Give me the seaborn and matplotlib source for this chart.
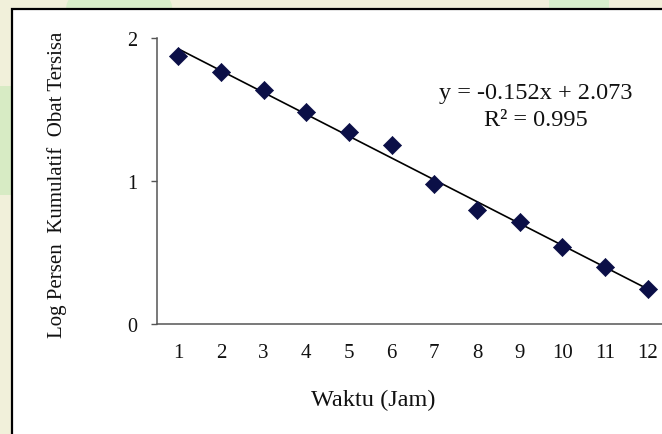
import numpy as np
import pandas as pd
import matplotlib
matplotlib.use("Agg")
import matplotlib.pyplot as plt
from matplotlib.patches import Rectangle, Ellipse
import seaborn as sns

# Data
waktu = [1, 2, 3, 4, 5, 6, 7, 8, 9, 10, 11, 12]
log_persen = [1.878, 1.762, 1.638, 1.482, 1.342, 1.253, 0.980, 0.800, 0.712, 0.537, 0.397, 0.245]
y_ticks = [0, 1, 2]
x_label = "Waktu (Jam)"
y_label = "Log Persen  Kumulatif  Obat Tersisa"
eq_text = "y = -0.152x + 2.073\nR\u00b2 = 0.995"

sns.set_theme(style="white")
plt.rcParams['font.family'] = ['Liberation Serif', 'DejaVu Serif']
plt.rcParams['text.color'] = '#111111'
plt.rcParams['xtick.color'] = '#111111'
plt.rcParams['ytick.color'] = '#111111'

df = pd.DataFrame({"Waktu": waktu, "Log": log_persen})

W, H = 662, 435
fig = plt.figure(figsize=(W / 100, H / 100), dpi=100)
fig.patch.set_facecolor("#f1f0da")

# soft watermark-like background patches
fig.patches.append(Ellipse((0.18, 0.98), 0.16, 0.12, transform=fig.transFigure,
                           facecolor="#d9efc9", edgecolor="none", zorder=0))
fig.patches.append(Rectangle((0.83, 0.95), 0.09, 0.06, transform=fig.transFigure,
                             facecolor="#d8f0cc", edgecolor="none", zorder=0))
fig.patches.append(Rectangle((0.0, 0.55), 0.018, 0.25, transform=fig.transFigure,
                             facecolor="#d7ebc4", edgecolor="none", zorder=0))

# white framed panel (extends beyond right/bottom edges)
fig.patches.append(Rectangle((12 / W, -0.1), 1.0, (H - 10) / H + 0.1,
                             transform=fig.transFigure, facecolor="white",
                             edgecolor="black", linewidth=1.6, zorder=1))

ax_left = 157 / W
ax_bottom = (H - 325) / H
ax_width = 512 / W
ax_height = (325 - 39.3) / H
ax = fig.add_axes([ax_left, ax_bottom, ax_width, ax_height])
ax.set_facecolor("none")
ax.set_zorder(2)

sns.regplot(data=df, x="Waktu", y="Log", ax=ax, ci=None, marker="D",
            scatter_kws={"s": 85, "color": "#0b0f47", "edgecolor": "#0b0f47",
                         "linewidths": 0.5, "alpha": 1.0, "zorder": 3},
            line_kws={"color": "black", "linewidth": 1.2, "zorder": 2})

ax.set_xlim(0.5, 12.5)
ax.set_ylim(0, 2)
ax.set_xticks(waktu)
ax.set_yticks(y_ticks)
ax.set_xticklabels([str(v) for v in waktu])
ax.set_yticklabels([str(v) for v in y_ticks])

for s in ["top", "right"]:
    ax.spines[s].set_visible(False)
for s in ["left", "bottom"]:
    ax.spines[s].set_color("#555555")
    ax.spines[s].set_linewidth(1.1)

ax.tick_params(axis="y", direction="out", length=4, width=1.0, color="#555555",
               labelcolor="#111111", pad=10, labelsize=14.5, left=True)
ax.tick_params(axis="x", length=0, pad=14, labelsize=15, labelcolor="#111111")

ax.set_xlabel("")
ax.set_ylabel("")
fig.text(373 / W, 1 - 400 / H, x_label, ha="center", va="center", fontsize=17.5)
fig.text(57 / W, 1 - 185 / H, y_label, ha="center", va="center", rotation=90,
         fontsize=15)
fig.text(536 / W, 1 - 107 / H, eq_text, ha="center", va="center", fontsize=17.5,
         linespacing=1.4, zorder=5)

fig.savefig("out.png", dpi=100)
